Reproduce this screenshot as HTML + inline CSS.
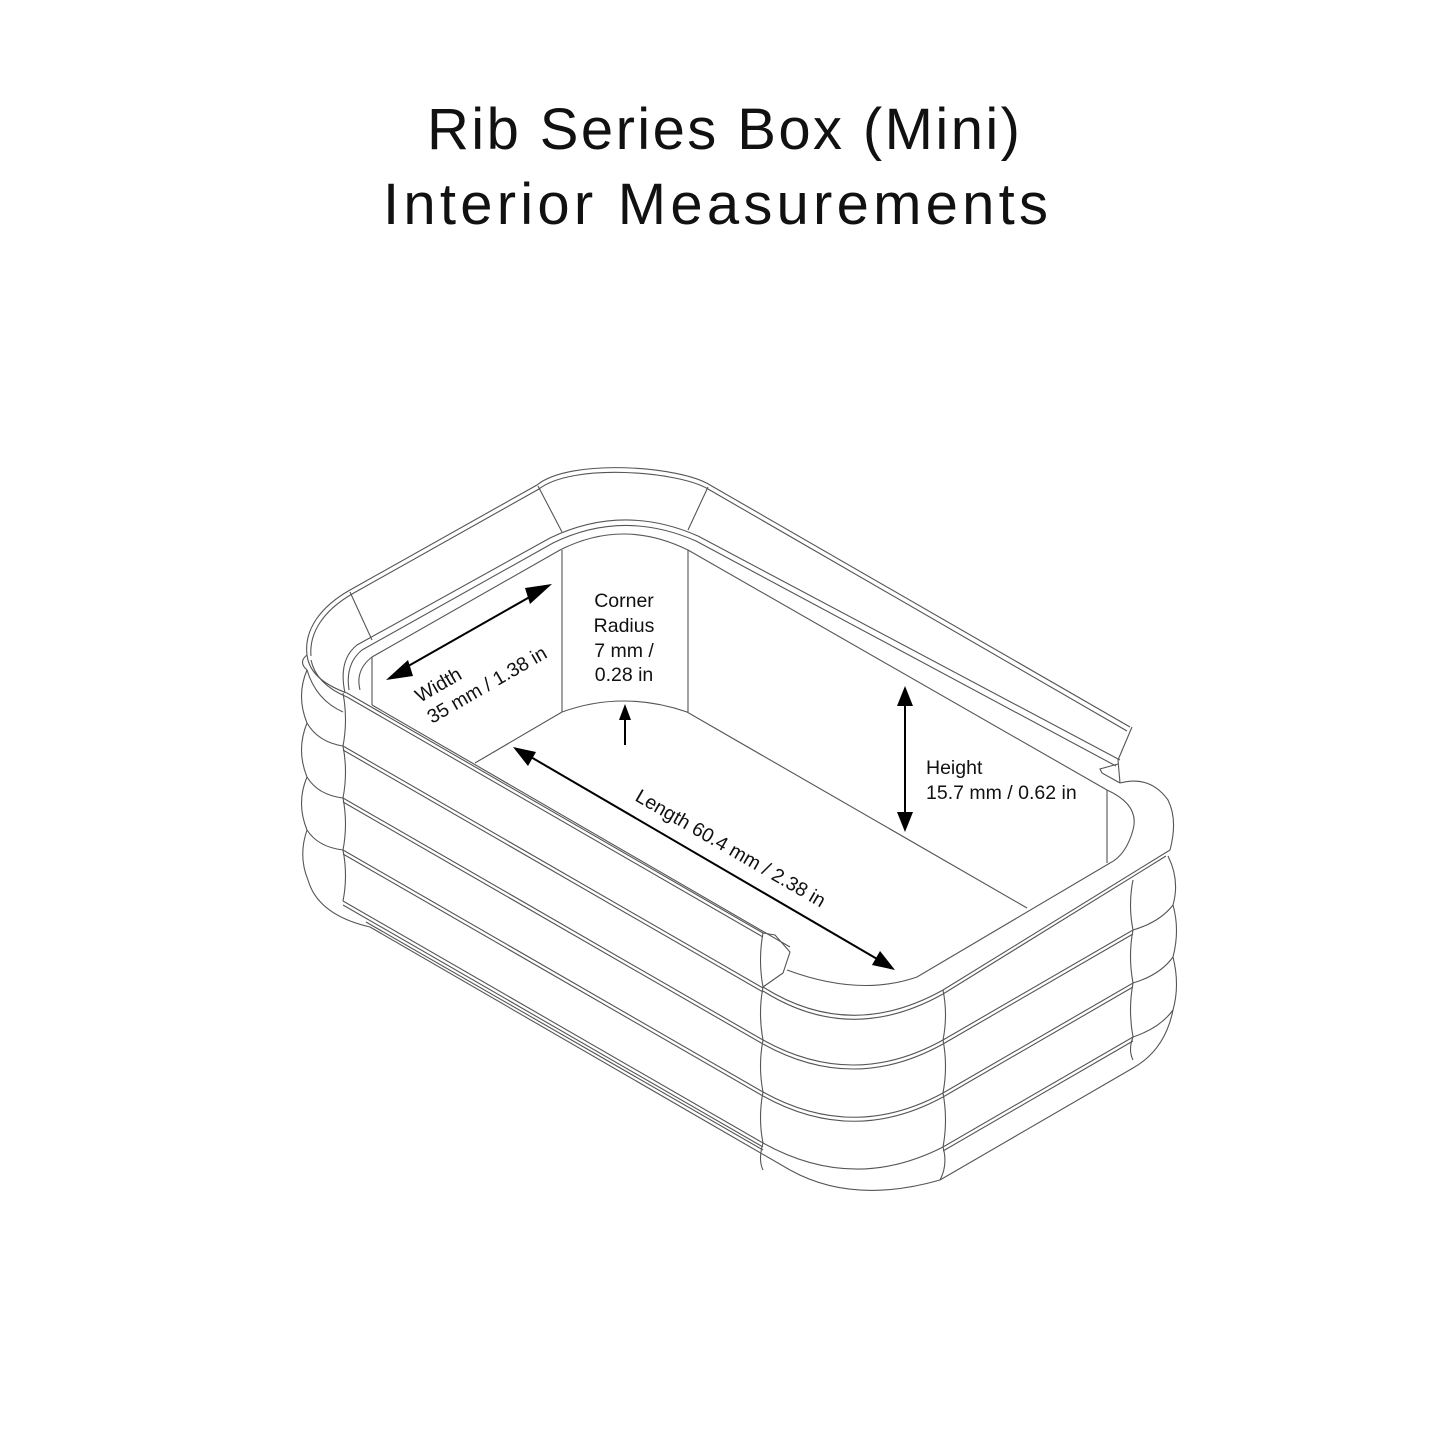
<!DOCTYPE html>
<html><head><meta charset="utf-8"><style>
html,body{margin:0;padding:0;background:#fff;}
svg{display:block;}
.t{font-family:"Liberation Sans",sans-serif;fill:#111;}
</style></head><body>
<svg width="1445" height="1445" viewBox="0 0 1445 1445" xmlns="http://www.w3.org/2000/svg">
<rect width="1445" height="1445" fill="#fff"/>
<text class="t" x="427" y="149" font-size="58" textLength="593" lengthAdjust="spacing">Rib Series Box (Mini)</text>
<text class="t" x="383" y="224" font-size="58" textLength="665" lengthAdjust="spacing">Interior Measurements</text>

<g fill="none" stroke="#555" stroke-width="1.1">
<path d="M1130,727 L710,485 C680,466 570,458 537,485 L350,590 C320,607 304,630 307,655"/>
<path d="M1127,731 L708,489 C678,471 572,463 539,489 L352,594 C323,611 309,633 311,656"/>
<path d="M1120,760 L698,536 Q623,503 550,538 L357,645 Q338,660 345,693"/>
<path d="M1116,766 L696,541 Q623,509 553,543 L362,650 Q345,664 349,690"/>
<path d="M1107,790 L688,550 Q623,518 560,550 L372,657 Q355,670 360,690"/>
<path d="M350,592 L372,640 M538,486 L562,532 M708,487 L688,530"/>
<path d="M372,657 L372,705 M562,550 L562,712 M688,550 L688,712 M1107,790 L1107,863"/>
<path d="M475,763 L562,712 Q623,690 687,712 L1027,908"/>
<path d="M1107,790 Q1140,805 1133,830 Q1126,855 1110,863 L917,977 Q860,997 787,970"/>
<path d="M1120,783 Q1150,775 1168,800 Q1178,820 1170,850 L943,990 Q850,1042 763,987"/>
<path d="M1166,856 L943,994 Q850,1046 763,991"/>
<path d="M1132,727 L1118,760 L1120,783 M1118,764 L1100,769 L1102,773 L1120,783"/>
<path d="M763,933 L775,935 L790,952 L783,973 L763,987"/>
<path d="M307,655 Q310,680 347,693 L763,933"/>
<path d="M311,660 Q316,684 347,697 L763,937"/>
<path d="M372,705 L790,947"/>
<path d="M343,746 L763,988 M343,750 L763,992"/>
<path d="M343,798 L763,1040 M343,802 L763,1044"/>
<path d="M343,850 L763,1092 M343,854 L763,1096"/>
<path d="M343,901 L763,1143 M343,905 L763,1147"/>
<path d="M370,927 L790,1170 M366,922 L763,1150"/>
<path d="M307,670 Q316,700 343,712 M307,723 Q318,742 343,746 M307,777 Q318,795 343,798 M307,830 Q318,847 343,850 M308,880 Q318,915 370,927"/>
<path d="M307,655 Q298,662 307,670 Q296,696 307,723 Q296,750 307,777 Q296,803 307,830 Q298,856 308,880"/>
<path d="M343,693 Q348,720 343,746 Q348,772 343,798 Q348,824 343,850 Q348,876 343,901"/>
<path d="M763,933 Q758,960 763,987 Q758,1013 763,1040 Q758,1066 763,1092 Q758,1118 763,1143 Q758,1160 763,1170"/>
<path d="M943,990 Q948,1015 943,1040 Q948,1066 943,1093 Q948,1120 943,1147 Q948,1165 940,1180"/>
<path d="M1133,880 Q1128,905 1133,930 Q1128,956 1133,983 Q1128,1010 1133,1037 Q1128,1050 1133,1060"/>
<path d="M1168,856 Q1180,880 1173,905 Q1180,930 1173,957 Q1180,985 1173,1010"/>
<path d="M763,1040 Q853,1090 943,1040 M763,1044 Q853,1094 943,1044"/>
<path d="M763,1092 Q853,1142 943,1093 M763,1096 Q853,1146 943,1097"/>
<path d="M763,1143 Q853,1193 943,1147"/>
<path d="M790,1170 Q853,1205 940,1180"/>
<path d="M943,1040 L1133,930 Q1160,922 1173,905 M943,1044 L1133,934"/>
<path d="M943,1093 L1133,983 Q1160,975 1173,957 M943,1097 L1133,987"/>
<path d="M943,1147 L1133,1037 Q1160,1028 1173,1010 M943,1151 L1133,1041"/>
<path d="M940,1180 L1133,1068 Q1165,1050 1173,1010"/>
</g>

<g stroke="#000" stroke-width="2" fill="#000">
<line x1="396" y1="673" x2="542" y2="590"/>
<polygon points="386,680 408,660 413,676" stroke="none"/>
<polygon points="552,584 530,604 525,588" stroke="none"/>
<line x1="625" y1="745" x2="625" y2="716"/>
<polygon points="625,704 619,720 631,720" stroke="none"/>
<line x1="524" y1="753" x2="884" y2="963"/>
<polygon points="513,747 536,752 528,766" stroke="none"/>
<polygon points="895,970 872,965 880,951" stroke="none"/>
<line x1="905" y1="698" x2="905" y2="820"/>
<polygon points="905,686 897,706 913,706" stroke="none"/>
<polygon points="905,832 897,812 913,812" stroke="none"/>
</g>

<g class="t" font-size="19.5">
<text x="624" y="607" text-anchor="middle">Corner</text>
<text x="624" y="632" text-anchor="middle">Radius</text>
<text x="624" y="657" text-anchor="middle">7 mm /</text>
<text x="624" y="681" text-anchor="middle">0.28 in</text>
<text x="926" y="774">Height</text>
<text x="926" y="799">15.7 mm / 0.62 in</text>
<g transform="translate(420,703) rotate(-30)"><text x="0" y="0">Width</text></g>
<g transform="translate(432,724) rotate(-30)"><text x="0" y="0">35 mm / 1.38 in</text></g>
<g transform="translate(634,800) rotate(30)"><text x="0" y="0">Length 60.4 mm / 2.38 in</text></g>
</g>
</svg>
</body></html>
